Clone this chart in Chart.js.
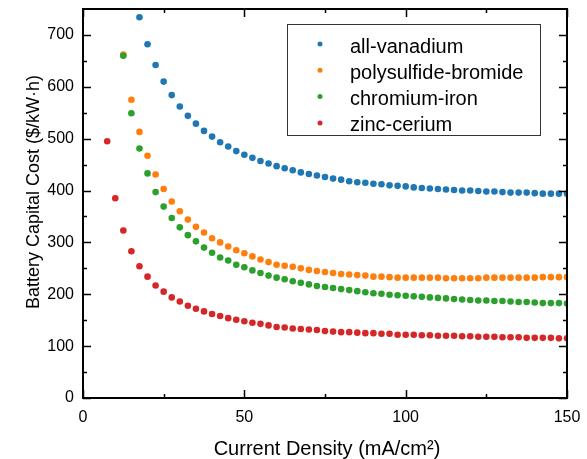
<!DOCTYPE html>
<html lang="en">
<head>
  <meta charset="UTF-8" />
  <title>Battery Capital Cost vs Current Density</title>
  <script src="https://cdn.jsdelivr.net/npm/chart.js"></script>
  <style>
    body {
      margin: 0;
      background: #fff;
    }
    canvas {
      display: block;
    }
  </style>
</head>
<body>
  <canvas id="costChart" width="587" height="459"></canvas>

  <script>
    // current density (mA/cm^2), one entry per measured step
    const currentDensity = [
      7.5, 10, 12.5, 15, 17.5, 20, 22.5, 25, 27.5, 30,
      32.5, 35, 37.5, 40, 42.5, 45, 47.5, 50, 52.5, 55,
      57.5, 60, 62.5, 65, 67.5, 70, 72.5, 75, 77.5, 80,
      82.5, 85, 87.5, 90, 92.5, 95, 97.5, 100, 102.5, 105,
      107.5, 110, 112.5, 115, 117.5, 120, 122.5, 125, 127.5, 130,
      132.5, 135, 137.5, 140, 142.5, 145, 147.5, 150
    ];

    // capital cost ($/kW·h), null where a chemistry has no point
    const allVanadium = [
      null, null, null, null, 734, 682, 642, 610, 584, 562,
      544, 529, 515, 504, 493, 485, 476, 469, 463, 457,
      452, 447, 443, 439, 435, 432, 429, 426, 423, 421,
      418, 416, 415, 413, 412, 410, 409, 408, 406, 405,
      404, 403, 402, 401, 400, 400, 399, 398, 398, 397,
      396, 396, 396, 395, 394, 394, 394, 394
    ];
    const polysulfideBromide = [
      null, null, 662, 575, 513, 467, 431, 403, 379, 360,
      344, 330, 319, 308, 300, 292, 285, 279, 273, 267,
      262, 257, 255, 253, 250, 247, 245, 243, 241, 239,
      238, 237, 236, 234, 234, 233, 232, 232, 232, 232,
      232, 232, 231, 231, 231, 231, 231, 232, 232, 232,
      232, 232, 232, 232, 233, 233, 233, 233
    ];
    const chromiumIron = [
      null, null, 660, 549, 481, 433, 397, 369, 347, 329,
      314, 302, 290, 280, 271, 265, 257, 252, 246, 241,
      236, 232, 229, 225, 222, 219, 216, 214, 212, 210,
      208, 206, 204, 202, 201, 199, 198, 197, 196, 195,
      194, 193, 192, 191, 190, 189, 188, 188, 187, 187,
      186, 185, 185, 184, 183, 183, 183, 182
    ];
    const zincCerium = [
      495, 385, 323, 283, 254, 234, 217, 205, 194, 186,
      178, 172, 167, 162, 158, 154, 151, 148, 145, 143,
      140, 137, 136, 134, 133, 132, 131, 129, 128, 127,
      127, 126, 125, 125, 124, 124, 122, 122, 122, 121,
      121, 120, 120, 120, 119, 119, 118, 118, 118, 117,
      117, 117, 116, 116, 116, 116, 115, 115
    ];

    const seriesNames = ['all-vanadium', 'polysulfide-bromide', 'chromium-iron', 'zinc-cerium'];
    const seriesColors = ['#1f77b4', '#ff7f0e', '#2ca02c', '#d62728'];

    const xTicks = [0, 50, 100, 150];
    const xMinorTicks = [25, 75, 125];
    const yTicks = [0, 100, 200, 300, 400, 500, 600, 700];
    const yMinorTicks = [50, 150, 250, 350, 450, 550, 650];

    const xTitle = 'Current Density (mA/cm\u00B2)';
    const yTitle = 'Battery Capital Cost ($/kW\u00B7h)';

    const FONT = "'Liberation Sans', Arial, sans-serif";

    function toPoints(values) {
      return currentDensity
        .map((x, i) => ({ x: x, y: values[i] }))
        .filter(p => p.y !== null);
    }

    const allSeries = [allVanadium, polysulfideBromide, chromiumIron, zincCerium];

    const datasets = allSeries.map((values, i) => ({
      label: seriesNames[i],
      data: toPoints(values),
      backgroundColor: seriesColors[i],
      borderColor: seriesColors[i],
      borderWidth: 0,
      pointRadius: 3.3,
      showLine: false,
      order: allSeries.length - i   // later series painted on top
    }));

    // box, inward ticks, axis titles and the legend
    const framePlugin = {
      id: 'frame',
      afterDraw(chart) {
        const ctx = chart.ctx;
        const area = chart.chartArea;
        const xs = chart.scales.x;
        const ys = chart.scales.y;

        ctx.save();
        ctx.strokeStyle = '#000';
        ctx.lineWidth = 2;
        ctx.strokeRect(area.left, area.top, area.right - area.left, area.bottom - area.top);

        ctx.lineWidth = 1.5;
        ctx.beginPath();
        const tickX = (vals, len) => vals.forEach(v => {
          const px = Math.round(xs.getPixelForValue(v)) + 0.5;
          ctx.moveTo(px, area.bottom); ctx.lineTo(px, area.bottom - len);
          ctx.moveTo(px, area.top); ctx.lineTo(px, area.top + len);
        });
        const tickY = (vals, len) => vals.forEach(v => {
          const py = Math.round(ys.getPixelForValue(v)) + 0.5;
          ctx.moveTo(area.left, py); ctx.lineTo(area.left + len, py);
          ctx.moveTo(area.right, py); ctx.lineTo(area.right - len, py);
        });
        tickX(xTicks, 8);
        tickX(xMinorTicks, 4);
        tickY(yTicks, 8);
        tickY(yMinorTicks, 4);
        ctx.stroke();

        // axis titles
        ctx.fillStyle = '#000';
        ctx.font = '20px ' + FONT;
        ctx.textAlign = 'center';
        ctx.textBaseline = 'alphabetic';
        ctx.fillText(xTitle, (area.left + area.right) / 2 + 2, 455);

        ctx.save();
        ctx.translate(39, 192);
        ctx.rotate(-Math.PI / 2);
        ctx.font = '18px ' + FONT;
        ctx.fillText(yTitle, 0, 0);
        ctx.restore();

        // legend
        ctx.strokeStyle = '#333';
        ctx.lineWidth = 1;
        ctx.strokeRect(287.5, 24.5, 253, 111);
        ctx.font = '20px ' + FONT;
        ctx.textAlign = 'left';
        chart.data.datasets.forEach((ds, i) => {
          const y = 44 + i * 26.3;
          ctx.fillStyle = ds.backgroundColor;
          ctx.beginPath();
          ctx.arc(320, y, 2.5, 0, Math.PI * 2);
          ctx.fill();
          ctx.fillStyle = '#000';
          ctx.fillText(ds.label, 350, y + 8.5);
        });
        ctx.restore();
      }
    };

    new Chart(document.getElementById('costChart'), {
      type: 'scatter',
      data: { datasets: datasets },
      options: {
        responsive: false,
        animation: false,
        layout: { padding: { top: 9, right: 20, left: 0, bottom: 0 } },
        plugins: {
          legend: { display: false },
          tooltip: { enabled: false }
        },
        scales: {
          x: {
            type: 'linear',
            min: 0,
            max: 150,
            afterBuildTicks: scale => { scale.ticks = xTicks.map(v => ({ value: v })); },
            afterFit: scale => {
              scale.height = 61;
              scale.paddingLeft = 0;
              scale.paddingRight = 0;
            },
            grid: { display: false },
            border: { display: false },
            ticks: {
              padding: 2,
              color: '#000',
              font: { family: FONT, size: 16 }
            }
          },
          y: {
            type: 'linear',
            min: 0,
            max: 750,
            afterBuildTicks: scale => { scale.ticks = yTicks.map(v => ({ value: v })); },
            afterFit: scale => {
              scale.width = 83;
              scale.paddingTop = 0;
              scale.paddingBottom = 0;
            },
            grid: { display: false },
            border: { display: false },
            ticks: {
              padding: 1,
              color: '#000',
              font: { family: FONT, size: 16 }
            }
          }
        }
      },
      plugins: [framePlugin]
    });
  </script>
</body>
</html>
